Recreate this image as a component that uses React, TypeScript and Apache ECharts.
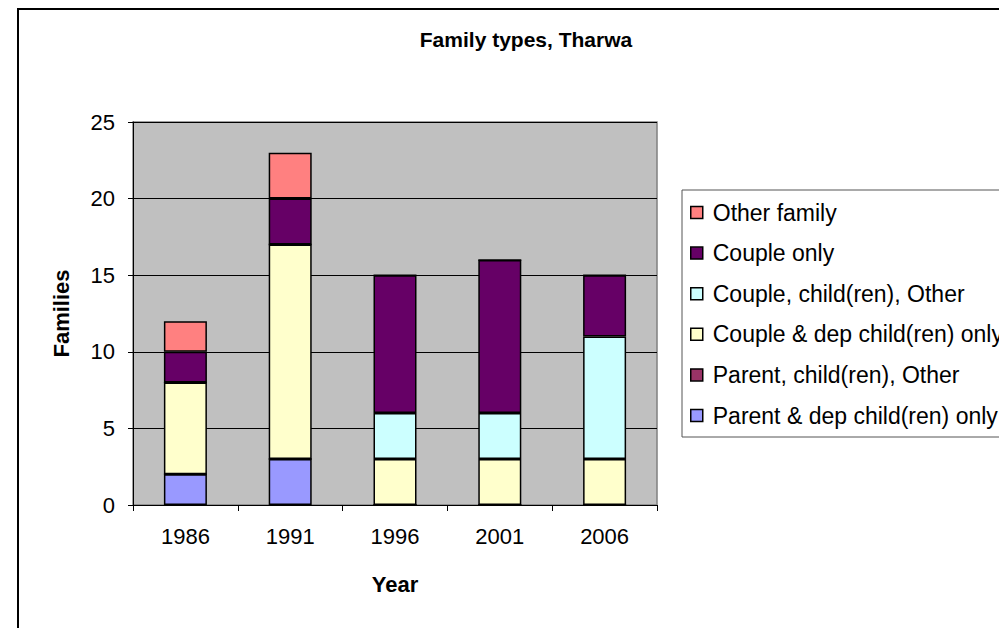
import React, { useEffect, useRef } from "react";
import * as echarts from "echarts";

const years = ["1986", "1991", "1996", "2001", "2006"];
const parentDep = [2, 3, 0, 0, 0];
const parentOther = [0, 0, 0, 0, 0];
const coupleDep = [6, 14, 3, 3, 3];
const coupleOther = [0, 0, 3, 3, 8];
const coupleOnly = [2, 3, 9, 10, 4];
const otherFamily = [2, 3, 0, 0, 0];

const seriesNames = [
  "Parent & dep child(ren) only",
  "Parent, child(ren), Other",
  "Couple & dep child(ren) only",
  "Couple, child(ren), Other",
  "Couple only",
  "Other family",
];
const seriesData = [parentDep, parentOther, coupleDep, coupleOther, coupleOnly, otherFamily];
const seriesColors = ["#9999FF", "#993366", "#FFFFCC", "#CCFFFF", "#660066", "#FF8080"];

const FONT = "'Liberation Sans', Arial, sans-serif";

export default function App() {
  const ref = useRef<HTMLDivElement>(null);
  useEffect(() => {
    if (!ref.current) return;
    const chart = echarts.init(ref.current, undefined, { renderer: "svg" });
    chart.setOption({
      animation: false,
      backgroundColor: "#ffffff",
      textStyle: { fontFamily: FONT },
      title: {
        text: "Family types, Tharwa",
        left: 526,
        top: 29,
        padding: 0,
        textAlign: "center",
        textStyle: { fontFamily: FONT, fontSize: 21, fontWeight: "bold", color: "#000" },
      },
      graphic: [
        {
          type: "rect",
          shape: { x: 18, y: 9, width: 1200, height: 800 },
          style: { fill: "none", stroke: "#000", lineWidth: 2 },
          silent: true,
          z: 100,
        },
      ],
      grid: {
        left: 133,
        top: 122,
        width: 524,
        height: 383,
        show: true,
        backgroundColor: "#C0C0C0",
        borderColor: "#808080",
        borderWidth: 1.5,
      },
      legend: {
        orient: "vertical",
        left: 682,
        top: 190,
        data: seriesNames.slice().reverse(),
        icon: "rect",
        itemWidth: 12,
        itemHeight: 12,
        itemGap: 17.6,
        padding: [11, 20, 10, 8],
        borderColor: "#555",
        borderWidth: 1,
        backgroundColor: "#fff",
        itemStyle: { borderColor: "#000", borderWidth: 1.5 },
        textStyle: {
          fontFamily: FONT,
          fontSize: 23,
          lineHeight: 23,
          color: "#000",
          padding: [0, 0, 0, 5],
        },
      },
      xAxis: {
        type: "category",
        data: years,
        name: "Year",
        nameLocation: "middle",
        nameGap: 68,
        nameTextStyle: { fontFamily: FONT, fontSize: 22, fontWeight: "bold", color: "#000" },
        axisLine: { lineStyle: { color: "#000", width: 1 } },
        axisTick: { show: true, length: 6, lineStyle: { color: "#000" } },
        axisLabel: { fontFamily: FONT, fontSize: 22, color: "#000", margin: 20 },
      },
      yAxis: {
        type: "value",
        min: 0,
        max: 25,
        interval: 5,
        name: "Families",
        nameLocation: "middle",
        nameRotate: 90,
        nameGap: 61,
        nameTextStyle: { fontFamily: FONT, fontSize: 22, fontWeight: "bold", color: "#000" },
        axisLine: { show: true, lineStyle: { color: "#000", width: 1 } },
        axisTick: { show: true, length: 5, lineStyle: { color: "#000" } },
        axisLabel: { fontFamily: FONT, fontSize: 22, color: "#000", margin: 18 },
        splitLine: { show: true, lineStyle: { color: "#000", width: 1 } },
      },
      series: seriesNames.map((name, i) => ({
        name,
        type: "bar",
        stack: "total",
        barWidth: 43,
        data: seriesData[i],
        itemStyle: { color: seriesColors[i], borderColor: "#000", borderWidth: 1.5 },
      })),
    });
    return () => chart.dispose();
  }, []);
  return (
    <div
      ref={ref}
      style={{ position: "fixed", left: 0, top: 0, width: 999, height: 628 }}
    />
  );
}
